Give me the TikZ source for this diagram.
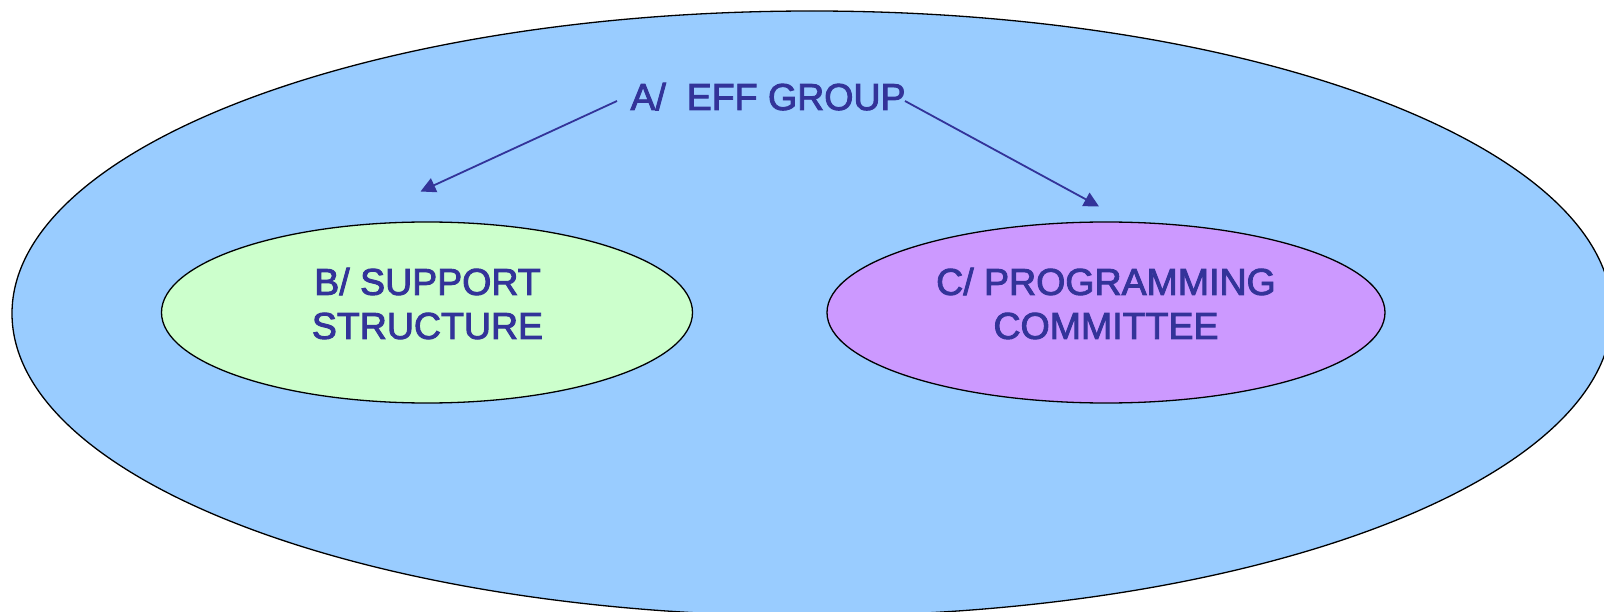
\documentclass[tikz,border=0pt]{standalone}
\usepackage{fontspec}
\setmainfont{Liberation Sans}
\newcommand{\heavyink}[1]{\special{pdf:literal direct 2 Tr 0.9 w}#1\special{pdf:literal direct 0 Tr}}
\usetikzlibrary{shapes.geometric,arrows.meta}
\definecolor{outerblue}{HTML}{99CCFF}
\definecolor{softgreen}{HTML}{CCFFCC}
\definecolor{softviolet}{HTML}{CC99FF}
\definecolor{inkblue}{HTML}{333399}
\tikzset{
  bubble/.style={ellipse, draw=black, line width=1.3pt, inner sep=0pt, outer sep=0pt},
  label text/.style={text=inkblue, font=\fontsize{37.5}{44}\selectfont, inner sep=0pt, align=center},
  link/.style={draw=inkblue, line width=1.8pt, -{Triangle[length=15pt,width=15pt]}}
}
\begin{document}
\begin{tikzpicture}[x=1pt,y=-1pt]
\useasboundingbox (0,0) rectangle (1604,612);
\node[bubble, fill=outerblue, minimum width=1600pt, minimum height=605pt] (E) at (812,313.5) {};
\node[bubble, fill=softgreen, minimum width=531pt, minimum height=181pt] (B) at (427,312.5) {};
\node[bubble, fill=softviolet, minimum width=558pt, minimum height=181pt] (C) at (1106,312.5) {};
\node[label text, anchor=base] (A) at (768,110) {\heavyink{A/\ \ EFF GROUP}};
\node[label text] (tB) at (427.5,303.5) {\heavyink{B/ SUPPORT}\\\heavyink{STRUCTURE}};
\node[label text] (tC) at (1106,303.5) {\heavyink{C/ PROGRAMMING}\\\heavyink{COMMITTEE}};
\coordinate (aL) at (617,101);
\coordinate (aR) at (905,101);
\coordinate (tipB) at (420.5,191.5);
\coordinate (tipC) at (1099,206.5);
\draw[link] (aL) -- (tipB);
\draw[link] (aR) -- (tipC);
\end{tikzpicture}
\end{document}
